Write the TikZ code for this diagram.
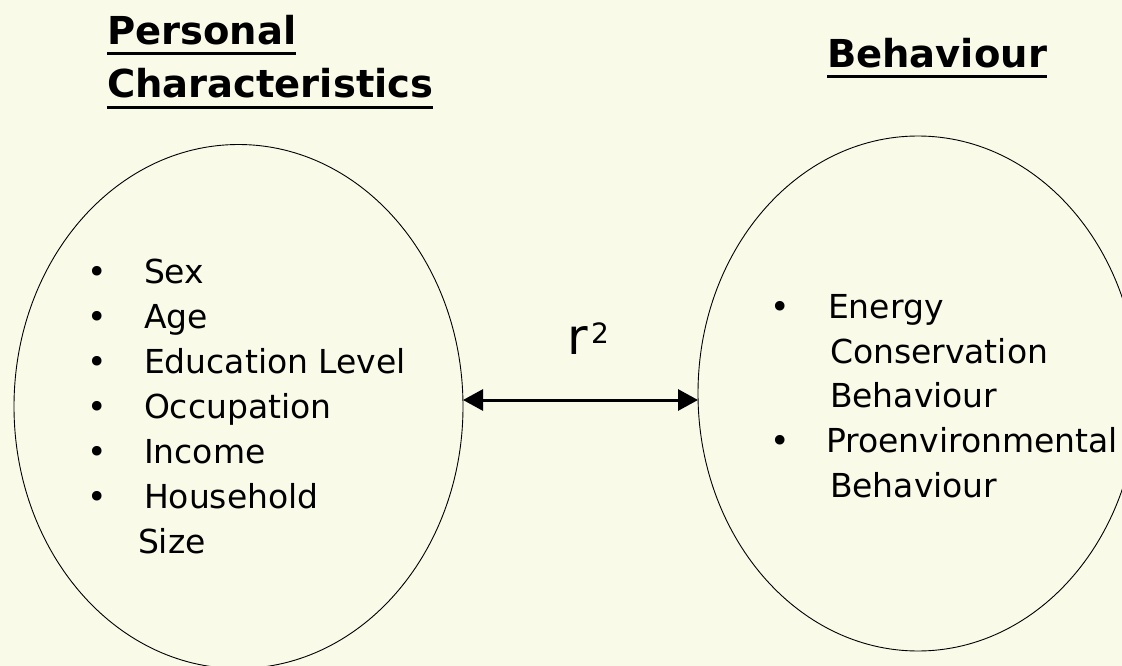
\documentclass[tikz,border=0pt]{standalone}
\usepackage{fontspec}
\setmainfont{DejaVu Sans}
\usetikzlibrary{shapes.geometric,arrows.meta,calc}
\definecolor{bgc}{RGB}{250,250,232}
\begin{document}
\begin{tikzpicture}[x=1pt,y=-1pt,
  txt/.style={anchor=base west, inner sep=0pt, outer sep=0pt, font=\fontsize{33}{40}\selectfont},
  head/.style={anchor=base west, inner sep=0pt, outer sep=0pt, font=\fontsize{38.5}{46}\selectfont\bfseries},
  bul/.style={anchor=base, inner sep=0pt, outer sep=0pt, font=\fontsize{33}{40}\selectfont},
  oval/.style={ellipse, draw, line width=0.9pt, inner sep=0pt, outer sep=0pt},
  uline/.style={line width=3pt},
  link/.style={line width=3pt, {Triangle[length=20pt,width=21pt]}-{Triangle[length=20pt,width=21pt]}}]
\path[use as bounding box, fill=bgc] (0,0) rectangle (1122,666);

% ellipses
\node[oval, minimum width=449pt, minimum height=524pt] (L) at (238.5,406.5) {};
\node[oval, minimum width=440pt, minimum height=515pt] (R) at (918,393.5) {};

% headings
\node[head] (h1) at (107,45) {Personal};
\node[head] (h2) at (107,98) {Characteristics};
\node[head] (h3) at (827,68) {Behaviour};
\draw[uline] ($(h1.base west)+(0,8.5)$) -- ($(h1.base east)+(0,8.5)$);
\draw[uline] ($(h2.base west)+(0,10)$) -- ($(h2.base east)+(0,10)$);
\draw[uline] ($(h3.base west)+(0,9)$) -- ($(h3.base east)+(0,9)$);

% left list
\node[bul] (b1) at (97.7,283) {•};
\node[bul] (b2) at (97.7,328) {•};
\node[bul] (b3) at (97.7,373) {•};
\node[bul] (b4) at (97.7,418) {•};
\node[bul] (b5) at (97.7,463) {•};
\node[bul] (b6) at (97.7,508) {•};
\node[txt] (l1) at (144,283) {Sex};
\node[txt] (l2) at (144,328) {Age};
\node[txt] (l3) at (144,373) {Education Level};
\node[txt] (l4) at (144,418) {Occupation};
\node[txt] (l5) at (144,463) {Income};
\node[txt] (l6) at (144,508) {Household};
\node[txt] (l7) at (138,553) {Size};

% right list
\node[bul] (c1) at (780,318) {•};
\node[bul] (c2) at (780,452) {•};
\node[txt] (r1) at (828,318) {Energy};
\node[txt] (r2) at (830,363) {Conservation};
\node[txt] (r3) at (830,407) {Behaviour};
\node[txt] (r4) at (826,452) {Proenvironmental};
\node[txt] (r5) at (830,497) {Behaviour};

% connector
\coordinate (mid) at (580,400);
\draw[link] (L.east |- mid) -- (R.west |- mid);
\node[anchor=base west, inner sep=0pt, font=\fontsize{50}{56}\selectfont] (rr) at (567,354) {r};
\node[anchor=base west, inner sep=0pt, font=\fontsize{28}{32}\selectfont] (sq) at (591,343) {2};
\end{tikzpicture}
\end{document}
